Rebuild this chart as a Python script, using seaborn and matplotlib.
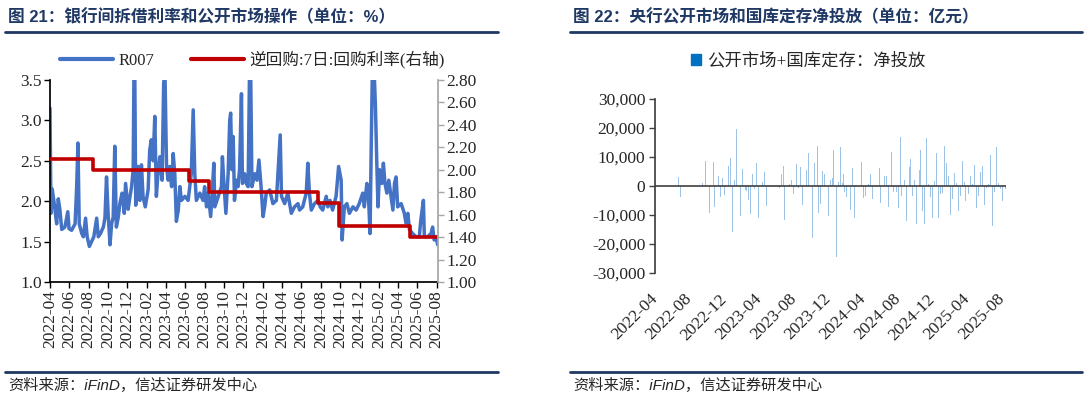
import matplotlib
matplotlib.use("Agg")
import matplotlib.pyplot as plt
import matplotlib.dates as mdates
from matplotlib.lines import Line2D
from matplotlib.patches import Patch
from matplotlib.ticker import MultipleLocator, FuncFormatter
import pandas as pd
import seaborn as sns

# R007 (%)
r007_dates = [
    '2022-04-01', '2022-04-04', '2022-04-08', '2022-04-15', '2022-04-22', '2022-04-27', '2022-05-02', '2022-05-08',
    '2022-05-18', '2022-05-27', '2022-05-31', '2022-06-08', '2022-06-19', '2022-06-24', '2022-06-28', '2022-07-02',
    '2022-07-10', '2022-07-15', '2022-07-22', '2022-07-27', '2022-08-03', '2022-08-10', '2022-08-17', '2022-08-26',
    '2022-08-31', '2022-09-07', '2022-09-16', '2022-09-21', '2022-09-26', '2022-10-01', '2022-10-07', '2022-10-12',
    '2022-10-17', '2022-10-22', '2022-10-27', '2022-11-02', '2022-11-07', '2022-11-14', '2022-11-21', '2022-11-25',
    '2022-12-03', '2022-12-09', '2022-12-14', '2022-12-19', '2022-12-22', '2022-12-24', '2022-12-27', '2023-01-03',
    '2023-01-09', '2023-01-14', '2023-01-19', '2023-01-26', '2023-02-04', '2023-02-09', '2023-02-14', '2023-02-20',
    '2023-02-25', '2023-03-02', '2023-03-07', '2023-03-13', '2023-03-20', '2023-03-25', '2023-03-29', '2023-04-03',
    '2023-04-08', '2023-04-13', '2023-04-19', '2023-04-24', '2023-04-29', '2023-05-04', '2023-05-10', '2023-05-15',
    '2023-05-20', '2023-05-31', '2023-06-10', '2023-06-20', '2023-06-26', '2023-07-01', '2023-07-06', '2023-07-17',
    '2023-07-27', '2023-08-01', '2023-08-07', '2023-08-12', '2023-08-20', '2023-08-25', '2023-08-30', '2023-09-02',
    '2023-09-13', '2023-09-23', '2023-09-26', '2023-09-30', '2023-10-07', '2023-10-14', '2023-10-19', '2023-10-22',
    '2023-10-26', '2023-10-30', '2023-11-03', '2023-11-09', '2023-11-14', '2023-11-19', '2023-11-25', '2023-11-28',
    '2023-12-05', '2023-12-10', '2023-12-16', '2023-12-21', '2023-12-24', '2023-12-28', '2024-01-06', '2024-01-13',
    '2024-01-19', '2024-01-25', '2024-02-01', '2024-02-06', '2024-02-11', '2024-02-22', '2024-03-03', '2024-03-14',
    '2024-03-19', '2024-03-26', '2024-03-30', '2024-04-09', '2024-04-19', '2024-04-30', '2024-05-10', '2024-05-21',
    '2024-05-26', '2024-06-05', '2024-06-16', '2024-06-21', '2024-06-26', '2024-07-02', '2024-07-12', '2024-07-23',
    '2024-07-30', '2024-08-07', '2024-08-18', '2024-08-23', '2024-08-30', '2024-09-07', '2024-09-18', '2024-09-26',
    '2024-10-04', '2024-10-07', '2024-10-14', '2024-10-22', '2024-10-30', '2024-11-10', '2024-11-20', '2024-11-30',
    '2024-12-11', '2024-12-16', '2024-12-24', '2024-12-29', '2025-01-03', '2025-01-07', '2025-01-11', '2025-01-16',
    '2025-01-20', '2025-01-24', '2025-01-28', '2025-02-02', '2025-02-09', '2025-02-14', '2025-02-19', '2025-02-25',
    '2025-03-03', '2025-03-10', '2025-03-16', '2025-03-21', '2025-03-26', '2025-03-31', '2025-04-11', '2025-04-21',
    '2025-04-26', '2025-05-02', '2025-05-07', '2025-05-17', '2025-05-28', '2025-06-07', '2025-06-12', '2025-06-20',
    '2025-06-23', '2025-07-03', '2025-07-14', '2025-07-19', '2025-07-24', '2025-07-30', '2025-08-04',
]
r007_vals = [
    3.15, 1.85, 2.15, 1.95, 1.72, 2.03, 1.90, 1.65,
    1.68, 1.87, 1.66, 1.64, 1.72, 2.18, 2.72, 1.72,
    1.60, 1.56, 1.79, 1.56, 1.44, 1.50, 1.56, 1.79,
    1.56, 1.60, 1.68, 1.79, 2.30, 1.85, 1.46, 1.72,
    1.80, 2.68, 1.68, 1.80, 1.97, 2.10, 1.85, 2.22,
    1.90, 2.06, 2.18, 2.39, 3.90, 3.60, 1.95, 2.43,
    2.01, 2.45, 2.06, 1.93, 2.14, 2.63, 2.76, 2.50,
    3.05, 2.06, 2.34, 2.55, 2.26, 3.46, 3.60, 2.43,
    2.26, 2.43, 2.18, 2.59, 2.34, 1.75, 1.89, 2.18,
    2.01, 2.06, 2.01, 2.34, 3.13, 2.34, 2.01, 2.10,
    2.01, 2.18, 1.93, 2.10, 1.81, 2.10, 2.47, 1.93,
    2.06, 2.18, 2.55, 2.26, 1.85, 2.34, 3.00, 3.09,
    2.39, 2.80, 2.01, 2.26, 2.18, 2.39, 3.33, 2.22,
    2.34, 2.22, 2.18, 3.80, 3.60, 2.18, 2.34, 2.26,
    2.51, 2.22, 1.81, 1.93, 2.10, 2.14, 1.97, 2.01,
    2.34, 2.82, 2.06, 1.97, 2.10, 1.85, 1.93, 1.97,
    1.89, 1.93, 2.10, 2.47, 2.10, 1.89, 1.97, 2.01,
    1.93, 1.89, 2.06, 1.93, 2.01, 1.89, 2.06, 2.43,
    2.26, 1.52, 1.93, 1.97, 1.85, 1.93, 1.89, 1.97,
    2.10, 1.93, 2.22, 2.06, 1.60, 2.76, 3.80, 3.60,
    3.17, 2.51, 1.93, 2.39, 2.22, 2.47, 2.22, 2.10,
    2.26, 2.06, 1.89, 2.22, 2.30, 1.93, 1.97, 1.85,
    1.73, 1.85, 1.65, 1.60, 1.56, 1.56, 1.77, 2.01,
    1.56, 1.56, 1.60, 1.68, 1.52, 1.56, 1.46,
]

# 逆回购 7日 利率 (%), right axis
rr_dates = ['2022-04-01', '2022-08-15', '2023-06-13', '2023-08-15', '2024-07-22', '2024-09-27', '2025-05-08', '2025-08-04']
rr_vals = [2.10, 2.00, 1.90, 1.80, 1.70, 1.50, 1.40, 1.40]

# 公开市场+国库定存 净投放 (亿元)
inj_dates = [
    '2022-06-24', '2022-06-30', '2022-09-14', '2022-09-25', '2022-10-08', '2022-10-22', '2022-10-28', '2022-11-11',
    '2022-11-18', '2022-11-24', '2022-12-02', '2022-12-15', '2022-12-23', '2022-12-29', '2023-01-06', '2023-01-12',
    '2023-01-27', '2023-02-03', '2023-02-11', '2023-02-17', '2023-02-24', '2023-03-02', '2023-03-09', '2023-03-15',
    '2023-03-23', '2023-03-30', '2023-04-13', '2023-04-19', '2023-04-27', '2023-05-15', '2023-06-05', '2023-06-10',
    '2023-06-18', '2023-06-24', '2023-06-30', '2023-07-17', '2023-07-23', '2023-07-29', '2023-08-12', '2023-08-18',
    '2023-08-24', '2023-08-30', '2023-09-13', '2023-09-22', '2023-10-06', '2023-10-14', '2023-10-22', '2023-10-28',
    '2023-11-02', '2023-11-09', '2023-11-16', '2023-11-30', '2023-12-07', '2023-12-13', '2023-12-19', '2023-12-28',
    '2024-01-04', '2024-01-11', '2024-01-17', '2024-01-21', '2024-01-26', '2024-02-03', '2024-02-16', '2024-02-24',
    '2024-03-02', '2024-03-24', '2024-03-31', '2024-04-07', '2024-04-18', '2024-04-27', '2024-05-04', '2024-05-26',
    '2024-05-31', '2024-06-15', '2024-06-20', '2024-06-29', '2024-07-10', '2024-07-17', '2024-07-25', '2024-08-01',
    '2024-08-08', '2024-08-14', '2024-08-24', '2024-08-30', '2024-09-08', '2024-09-14', '2024-09-21', '2024-09-28',
    '2024-10-05', '2024-10-14', '2024-10-19', '2024-10-25', '2024-11-01', '2024-11-07', '2024-11-14', '2024-11-22',
    '2024-11-28', '2024-12-06', '2024-12-12', '2024-12-19', '2024-12-26', '2025-01-02', '2025-01-09', '2025-01-11',
    '2025-01-18', '2025-01-25', '2025-02-01', '2025-02-07', '2025-02-15', '2025-02-20', '2025-03-01', '2025-03-08',
    '2025-03-14', '2025-03-20', '2025-03-26', '2025-04-03', '2025-04-10', '2025-04-17', '2025-04-26', '2025-05-02',
    '2025-05-10', '2025-05-16', '2025-05-18', '2025-05-24', '2025-05-30', '2025-06-07', '2025-06-13', '2025-06-20',
    '2025-06-27', '2025-07-04', '2025-07-11', '2025-07-18', '2025-07-25', '2025-08-01', '2025-08-11',
]
inj_vals = [
    3100, -3800, 1000, 8700, -9200, 8400, -7300, 3600,
    -3900, 2900, -3200, 7000, 9700, -16000, 2000, 19800,
    -10500, 6000, -1500, -1800, -4800, -9700, 4300, -1000,
    8100, -11200, 1500, 5000, -6900, 300, 300, -600,
    4000, 7000, -11600, 800, 2000, -2700, 7600, -600,
    6700, -6600, 5400, 11500, -17800, 7900, 13800, -9200,
    -6200, 5200, 4000, -10500, 2000, 2700, 12400, -24500,
    1500, 13400, 1000, 4000, -2000, -3800, -8300, 6300,
    -11200, 8200, -4300, -3500, 600, 4300, -4400, 6200,
    -6000, 3600, 3500, -7300, 11800, -2200, -2000, -7500,
    16900, -3500, 2100, -12000, 6700, 9200, -3600, 2000,
    -13200, 5400, 12400, -8600, -13200, 16400, 800, -3700,
    -11200, 1700, 11300, -10900, -2600, -2400, 1400, 13900,
    8000, 3300, -10100, -4600, 4400, 1000, -8700, -3400,
    8600, 1400, -5000, -2700, 3300, 800, 7200, -7700,
    -3400, 2400, 4800, 6800, -6600, -800, 800, 10800,
    -13700, -2100, 13500, 1000, -1200, -5300, -1000,
]

left_title = '图 21：银行间拆借利率和公开市场操作（单位：%）'
right_title = '图 22：央行公开市场和国库定存净投放（单位：亿元）'
source = '资料来源：iFinD，信达证券研发中心'

sns.set_theme(style="white")
SERIF = ['Liberation Serif', 'Noto Sans CJK SC', 'DejaVu Sans']
SANS = ['Liberation Sans', 'Noto Sans CJK SC', 'DejaVu Sans']
plt.rcParams['font.family'] = SERIF
plt.rcParams['axes.unicode_minus'] = False

W, H = 1085, 399
fig = plt.figure(figsize=(W / 100, H / 100), dpi=100)
navy = '#1F3864'

r007 = pd.DataFrame({'date': pd.to_datetime(r007_dates), 'R007': r007_vals})
rr = pd.DataFrame({'date': pd.to_datetime(rr_dates), 'rate': rr_vals})
inj = pd.DataFrame({'date': pd.to_datetime(inj_dates), 'value': inj_vals})

# left panel
ax1 = fig.add_axes([50 / W, 1 - 282 / H, 388 / W, 202 / H])
sns.lineplot(data=r007, x='date', y='R007', ax=ax1, color='#4472C4', lw=2.5)
ax1.set_ylim(1.0, 3.5)
ax1.yaxis.set_major_locator(MultipleLocator(0.5))
ax1.yaxis.set_major_formatter(FuncFormatter(lambda v, p: f'{v:.1f}'))

ax2 = ax1.twinx()
sns.lineplot(data=rr, x='date', y='rate', ax=ax2, color='#C00000', lw=2.6, drawstyle='steps-post')
ax2.set_ylim(1.0, 2.8)
ax2.yaxis.set_major_locator(MultipleLocator(0.2))
ax2.yaxis.set_major_formatter(FuncFormatter(lambda v, p: f'{v:.2f}'))

ax1.set_xlim(pd.Timestamp('2022-04-01'), pd.Timestamp('2025-08-05'))
ax1.xaxis.set_major_locator(mdates.MonthLocator(bymonth=[2, 4, 6, 8, 10, 12]))
ax1.xaxis.set_major_formatter(mdates.DateFormatter('%Y-%m'))
for ax in (ax1, ax2):
    ax.set_xlabel('')
    ax.set_ylabel('')
    ax.spines['top'].set_visible(False)
ax1.spines['right'].set_visible(False)
ax2.spines['left'].set_visible(False)
ax2.spines['bottom'].set_visible(False)
ax1.spines['left'].set_color('black')
ax1.spines['bottom'].set_color('black')
ax2.spines['right'].set_color('#A6A6A6')
ax1.tick_params(axis='both', which='major', bottom=True, left=True, direction='out',
                length=4, width=1, color='black', labelsize=12.5, pad=2)
ax1.tick_params(axis='x', labelrotation=90)
ax2.tick_params(axis='y', right=True, direction='out', length=4, width=1, color='#A6A6A6',
                labelsize=12.5, pad=2)

handles = [Line2D([], [], color='#4472C4', lw=3), Line2D([], [], color='#C00000', lw=3)]
fig.legend(handles, ['R007', '逆回购:7日:回购利率(右轴)'], loc='center',
           bbox_to_anchor=(252 / W, 1 - 60 / H), ncol=2, frameon=False, fontsize=12,
           handlelength=3.2, handletextpad=0.3, columnspacing=2.2)

# right panel
ax3 = fig.add_axes([655 / W, 1 - 273 / H, 351 / W, 174 / H])
ax3.bar(inj['date'], inj['value'], width=3.5, color='#9DC3E6', linewidth=0)
ax3.axhline(0, color='#404040', lw=1.2, zorder=3)
ax3.set_ylim(-30000, 30000)
ax3.yaxis.set_major_locator(MultipleLocator(10000))
ax3.yaxis.set_major_formatter(FuncFormatter(lambda v, p: f'{v:,.0f}'))
ax3.set_xlim(pd.Timestamp('2022-04-01'), pd.Timestamp('2025-08-14'))
ax3.xaxis.set_major_locator(mdates.MonthLocator(bymonth=[4, 8, 12]))
ax3.xaxis.set_major_formatter(mdates.DateFormatter('%Y-%m'))
for s in ('top', 'right', 'bottom'):
    ax3.spines[s].set_visible(False)
ax3.spines['left'].set_color('#404040')
ax3.tick_params(axis='y', left=True, direction='out', length=4, width=1, color='#404040',
                labelsize=12.5, pad=3)
ax3.tick_params(axis='x', bottom=False, labelsize=12.5, pad=11)
for lab in ax3.get_xticklabels():
    lab.set_rotation(45)
    lab.set_ha('right')
    lab.set_va('center')
    lab.set_rotation_mode('anchor')

fig.legend([Patch(color='#0070C0')], ['公开市场+国库定存：净投放'], loc='center',
           bbox_to_anchor=(808 / W, 1 - 61 / H), frameon=False, fontsize=12.5,
           handlelength=0.6, handleheight=0.6, handletextpad=0.3)

# titles, rules and source notes
fig.text(8 / W, 1 - 17 / H, left_title, fontsize=12, fontweight='bold', color=navy,
         va='center', family=SANS)
fig.text(573 / W, 1 - 17 / H, right_title, fontsize=12, fontweight='bold', color=navy,
         va='center', family=SANS)
for x0, x1 in ((5, 498), (570, 1082)):
    fig.add_artist(Line2D([x0 / W, x1 / W], [1 - 32 / H] * 2, transform=fig.transFigure, color=navy, lw=2))
    fig.add_artist(Line2D([x0 / W, x1 / W], [1 - 372 / H] * 2, transform=fig.transFigure, color=navy, lw=2))
fig.text(8 / W, 1 - 385 / H, source, fontsize=11, style='italic', color='#262626', va='center', family=SANS)
fig.text(573 / W, 1 - 385 / H, source, fontsize=11, style='italic', color='#262626', va='center', family=SANS)

fig.savefig('out.png', dpi=100)
